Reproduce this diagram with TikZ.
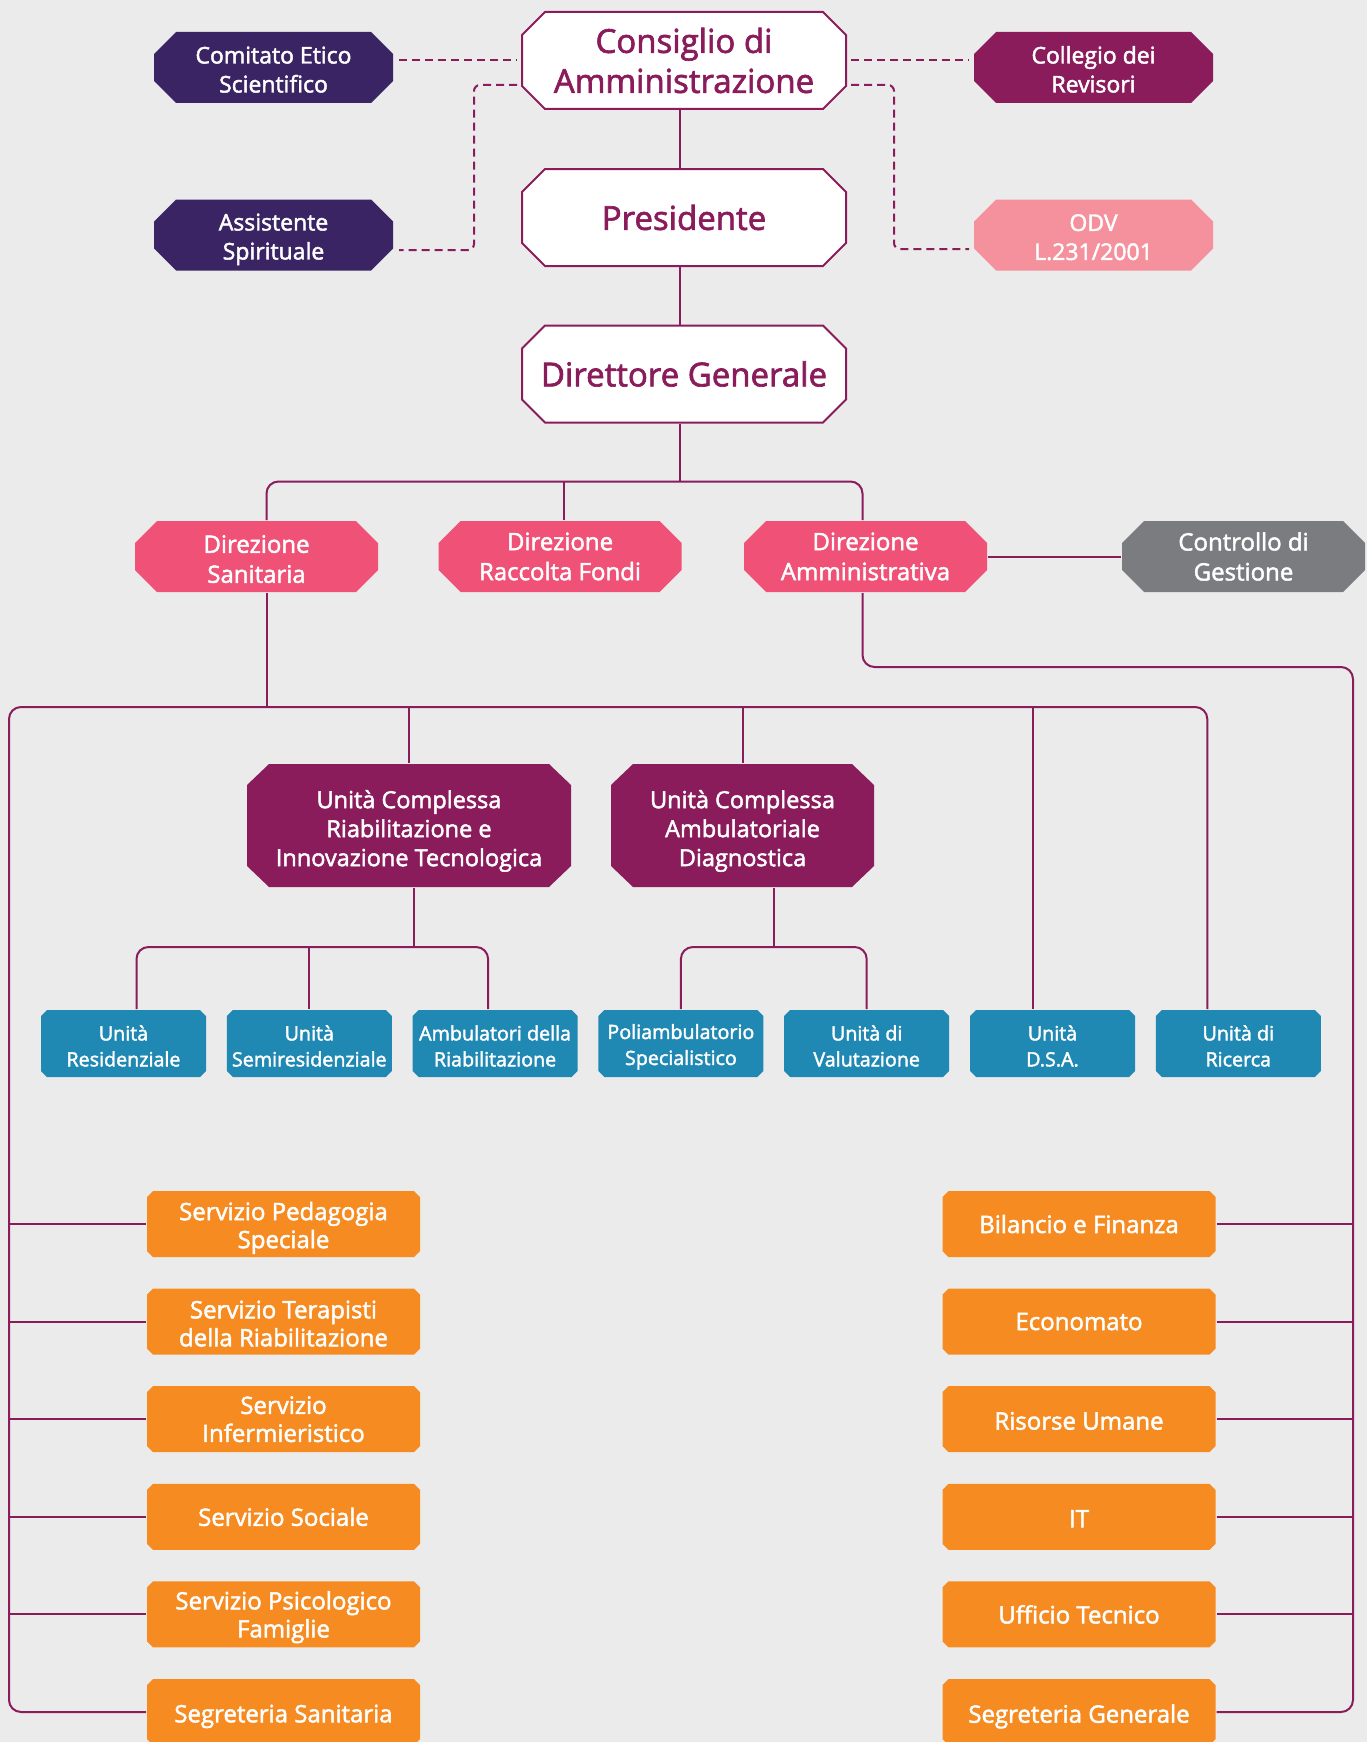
\documentclass[tikz,border=0pt]{standalone}
\usepackage{fontspec}
\setmainfont{Open Sans}[FakeBold=2]
\usepackage{tikz}
\usetikzlibrary{calc, positioning}

\definecolor{paper}{HTML}{EBEBEB}
\definecolor{plum}{HTML}{8A1C5C}
\definecolor{indigo}{HTML}{3A2463}
\definecolor{rose}{HTML}{F4919C}
\definecolor{coral}{HTML}{F05176}
\definecolor{slate}{HTML}{7B7C80}
\definecolor{ocean}{HTML}{2089B3}
\definecolor{amber}{HTML}{F68B22}

% invisible strut that pushes a label down inside its box
\newcommand{\lift}[1]{\rule{0pt}{#1}}

% octagonal box drawn inside the node rectangle: {x chamfer}{y chamfer}{paint}
\tikzset{
  oct/.style n args={3}{path picture={
    \path[#3]
      ([shift={(#1pt+1pt,1pt)}]path picture bounding box.south west)
      -- ([shift={(-#1pt-1pt,1pt)}]path picture bounding box.south east)
      -- ([shift={(-1pt,#2pt+1pt)}]path picture bounding box.south east)
      -- ([shift={(-1pt,-#2pt-1pt)}]path picture bounding box.north east)
      -- ([shift={(-#1pt-1pt,-1pt)}]path picture bounding box.north east)
      -- ([shift={(#1pt+1pt,-1pt)}]path picture bounding box.north west)
      -- ([shift={(1pt,-#2pt-1pt)}]path picture bounding box.north west)
      -- ([shift={(1pt,#2pt+1pt)}]path picture bounding box.south west)
      -- cycle;
  }}
}

\begin{document}
\begin{tikzpicture}[x=1pt, y=-1pt,
  every node/.style={inner sep=0pt, outer sep=0pt, align=center},
  board/.style={minimum width=326pt, minimum height=99pt, text=plum,
    font=\fontsize{33pt}{40pt}\selectfont,
    oct={23}{23}{draw=plum, line width=2pt, fill=white}},
  staff/.style={minimum width=241pt, minimum height=73pt, text=white,
    font=\fontsize{23pt}{29pt}\selectfont, oct={22}{22}{fill=#1}},
  office/.style={minimum width=245pt, minimum height=73pt, text=white,
    font=\fontsize{24pt}{30pt}\selectfont, oct={22}{22}{fill=#1}},
  complex/.style={minimum height=125pt, text=white,
    font=\fontsize{23.5pt}{29pt}\selectfont, oct={22}{21}{fill=plum}},
  unit/.style={minimum width=167pt, minimum height=69pt, text=white,
    font=\fontsize{19.7pt}{26pt}\selectfont, oct={6}{6}{fill=ocean}},
  service/.style={minimum width=275pt, minimum height=68pt, text=white,
    font=\fontsize{24pt}{28pt}\selectfont, oct={6}{6}{fill=amber}},
  link/.style={draw=plum, line width=2pt},
  dashlink/.style={link, dash pattern=on 8pt off 5pt}
]
  \fill[paper] (0,0) rectangle (1367,1742);
  \useasboundingbox (0,0) rectangle (1367,1742);

  %% top of the chart
  \node[board] (cda)  at (684,60.5) {Consiglio di\\Amministrazione};
  \node[board] (pres) at (684,217.5) {Presidente};
  \node[board] (dg)   at (684,374) {Direttore Generale};

  \node[staff=indigo] (ces) at (273.5,67.5) {\lift{21.2pt}Comitato Etico\\Scientifico};
  \node[staff=indigo] (asp) at (273.5,235) {\lift{25.5pt}Assistente\\Spirituale};
  \node[staff=plum]   (cdr) at (1093.5,67.5) {\lift{21.2pt}Collegio dei\\Revisori};
  \node[staff=rose]   (odv) at (1093.5,235) {\lift{21.2pt}ODV\\L.231/2001};

  %% directions
  \node[office=coral] (ds)  at (256.5,556.5) {\lift{22.8pt}Direzione\\Sanitaria};
  \node[office=coral] (drf) at (560,556.5) {Direzione\\Raccolta Fondi};
  \node[office=coral] (da)  at (865.5,556.5) {Direzione\\Amministrativa};
  \node[office=slate] (cdg) at (1243.5,556.5) {Controllo di\\Gestione};

  \node[complex, minimum width=326pt] (ucr) at (409,825.5)
    {\lift{28.9pt}Unità Complessa\\Riabilitazione e\\Innovazione Tecnologica};
  \node[complex, minimum width=265pt] (uca) at (742.5,825.5)
    {\lift{28.9pt}Unità Complessa\\Ambulatoriale\\Diagnostica};

  %% units
  \foreach \nm/\txt [count=\i from 0] in {ures/{\lift{20pt}Unità\\Residenziale},
      usemi/{\lift{20pt}Unità\\Semiresidenziale},
      uamb/{\lift{20pt}Ambulatori della\\Riabilitazione},
      upoli/{\lift{21.7pt}Poliambulatorio\\Specialistico},
      uval/{\lift{20pt}Unità di\\Valutazione},
      dsa/{\lift{20pt}Unità\\D.S.A.}, ric/{\lift{20pt}Unità di\\Ricerca}}
    \node[unit] (\nm) at (123.5+185.8*\i,1043.5) {\txt};

  %% services
  \foreach \nm/\txt [count=\i from 0] in {sps/{\lift{26pt}Servizio Pedagogia\\Speciale},
      str/{\lift{21.6pt}Servizio Terapisti\\della Riabilitazione},
      sinf/{Servizio\\Infermieristico}, ssoc/{Servizio Sociale},
      spf/{\lift{23.8pt}Servizio Psicologico\\Famiglie},
      ss/{\lift{26.4pt}Segreteria Sanitaria}}
    \node[service] (\nm) at (283.5,1224+97.6*\i) {\txt};

  \foreach \nm/\txt [count=\i from 0] in {bf/{Bilancio e Finanza},
      eco/{Economato}, ru/{\lift{21pt}Risorse Umane}, it/{\lift{21pt}IT},
      ut/{Ufficio Tecnico}, sg/{\lift{27.1pt}Segreteria Generale}}
    \node[service] (\nm) at (1079,1224+97.6*\i) {\txt};

  %% dashed links
  \draw[dashlink] ($(ces.east |- cda.west)+(5,0)$) -- ($(cda.west)+(-4,0)$);
  \draw[dashlink, rounded corners=6] ($(cda.west)+(-4,24.5)$)
    -| ($(asp.east)+(80,15)$) -- ($(asp.east)+(5,15)$);
  \draw[dashlink] ($(cda.east)+(4,0)$) -- ($(cdr.west |- cda.east)+(-4,0)$);
  \draw[dashlink, rounded corners=6] ($(cda.east)+(4,24.5)$)
    -| ($(odv.west)+(-79,14)$) -- ($(odv.west)+(-4,14)$);

  %% solid links
  \draw[link] ([xshift=-4pt]cda.south) -- ([xshift=-4pt]pres.north);
  \draw[link] ([xshift=-4pt]pres.south) -- ([xshift=-4pt]dg.north);

  \coordinate (j1) at ($(dg.south)+(-4,58)$);
  \draw[link] ([xshift=-4pt]dg.south) -- (j1);
  \draw[link, rounded corners=12] ([xshift=10pt]ds.north) |- (j1)
    -| ([xshift=-3pt]da.north);
  \draw[link] ([xshift=4pt]drf.north) -- ([xshift=4pt]drf.north |- j1);
  \draw[link] (da) -- (cdg);

  \coordinate (lft) at (9,707);
  \coordinate (rgt) at (1353,667);
  \draw[link, rounded corners=12] (ss) -| (lft) -| ([xshift=-31pt]ric.north);
  \draw[link] ([xshift=10pt]ds.south) -- ([xshift=10pt]ds.south |- lft);
  \draw[link] (ucr) -- (ucr |- lft);
  \draw[link] (uca) -- (uca |- lft);
  \draw[link] ([xshift=-20pt]dsa.north) -- ([xshift=-20pt]dsa.north |- lft);
  \draw[link, rounded corners=12] ([xshift=-3pt]da.south) |- (rgt) |- (sg);

  \foreach \n in {sps, str, sinf, ssoc, spf}
    \draw[link] (\n) -- (\n -| lft);
  \foreach \n in {bf, eco, ru, it, ut}
    \draw[link] (\n) -- (\n -| rgt);

  \coordinate (j3) at ($(ucr.south)+(5,59)$);
  \draw[link] ([xshift=5pt]ucr.south) -- (j3);
  \draw[link, rounded corners=12] ([xshift=13pt]ures.north) |- (j3)
    -| ([xshift=-7pt]uamb.north);
  \draw[link] (usemi) -- (usemi |- j3);

  \coordinate (j4) at ($(uca.south)+(31,59)$);
  \draw[link] ([xshift=31pt]uca.south) -- (j4);
  \draw[link, rounded corners=12] (upoli) |- (j4) -| (uval);
\end{tikzpicture}
\end{document}
